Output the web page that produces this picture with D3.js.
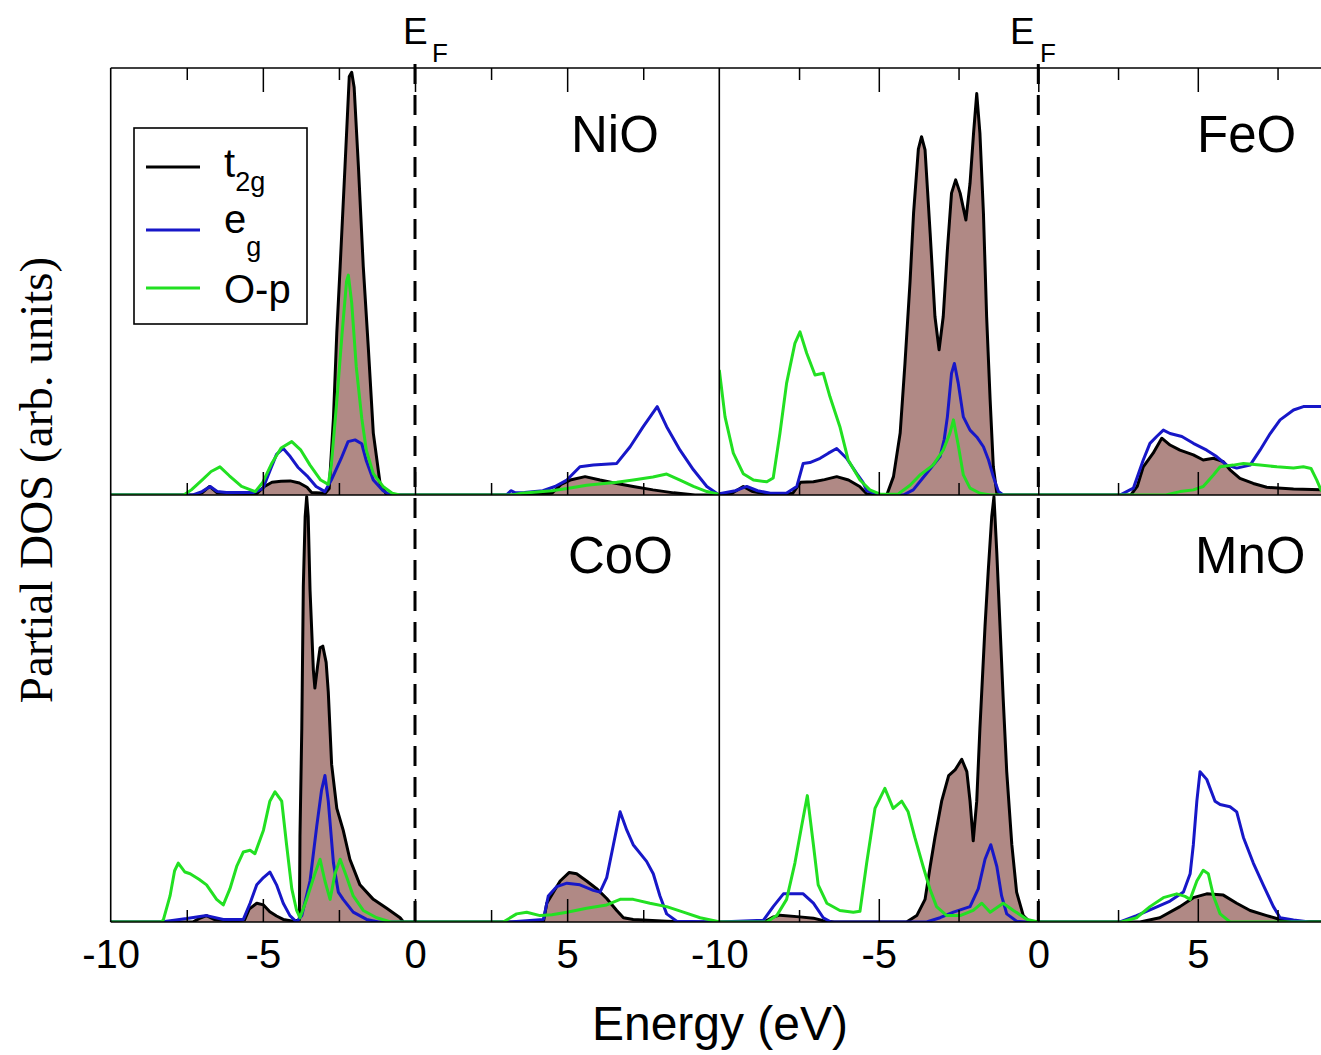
<!DOCTYPE html>
<html>
<head>
<meta charset="utf-8">
<script src="https://cdn.jsdelivr.net/npm/d3@7/dist/d3.min.js"></script>
<style>
  html, body { margin: 0; padding: 0; background: #fff; }
  svg { display: block; }
</style>
</head>
<body>
<div id="chart"></div>
<script>
// ---------------- DATA (energy in eV, DOS in arbitrary units) ----------------
const panelNames = ["NiO", "FeO", "CoO", "MnO"];
const seriesNames = ["t2g", "eg", "O-p"];
const majorTicks = [-5, 0, 5];
const minorTicks = [-7.5, -2.5, 2.5, 7.5];
const tickLabelsLeft = [-10, -5, 0, 5];
const tickLabelsRight = [-10, -5, 0, 5];

const NiO_t2g = [[-10,0],[-7.2,0],[-7.0,0.005],[-6.75,0.02],[-6.5,0.005],[-5.2,0.003],[-4.95,0.02],[-4.7,0.03],[-4.4,0.032],[-4.1,0.033],[-3.8,0.028],[-3.55,0.018],[-3.4,0.006],[-2.95,0.004],[-2.82,0.015],[-2.68,0.18],[-2.57,0.38],[-2.46,0.535],[-2.3,0.77],[-2.16,0.98],[-2.08,0.99],[-2.0,0.955],[-1.86,0.77],[-1.7,0.535],[-1.53,0.34],[-1.37,0.145],[-1.15,0.028],[-0.93,0],[3.2,0],[4.5,0.004],[4.8,0.025],[5.1,0.035],[5.59,0.043],[6.08,0.035],[6.63,0.027],[7.17,0.02],[7.82,0.012],[8.5,0.005],[9.2,0],[10,0]];
const NiO_eg = [[-10,0],[-7.3,0],[-7.0,0.008],[-6.73,0.02],[-6.5,0.008],[-6.2,0.006],[-5.3,0.006],[-5.0,0.015],[-4.75,0.06],[-4.55,0.095],[-4.33,0.109],[-4.1,0.09],[-3.85,0.065],[-3.55,0.045],[-3.25,0.02],[-2.96,0.008],[-2.75,0.035],[-2.43,0.085],[-2.2,0.125],[-1.97,0.129],[-1.75,0.12],[-1.6,0.08],[-1.37,0.035],[-1.05,0.01],[-0.8,0],[3.0,0],[3.15,0.01],[3.3,0.005],[3.6,0.006],[4.2,0.01],[4.6,0.02],[4.99,0.035],[5.42,0.066],[5.86,0.07],[6.63,0.074],[7.07,0.113],[7.5,0.16],[7.96,0.207],[8.27,0.16],[8.71,0.105],[9.15,0.059],[9.59,0.02],[9.91,0.004],[10,0]];
const NiO_Op = [[-10,0],[-7.6,0],[-7.35,0.012],[-7.0,0.035],[-6.7,0.055],[-6.41,0.066],[-6.1,0.045],[-5.7,0.02],[-5.25,0.008],[-5.0,0.03],[-4.7,0.075],[-4.4,0.11],[-4.05,0.125],[-3.75,0.105],[-3.45,0.07],[-3.1,0.035],[-2.85,0.025],[-2.75,0.07],[-2.57,0.22],[-2.4,0.375],[-2.25,0.5],[-2.19,0.515],[-2.08,0.45],[-1.93,0.3],[-1.75,0.18],[-1.6,0.105],[-1.37,0.05],[-1.05,0.02],[-0.75,0.004],[-0.5,0],[3.2,0],[3.5,0.004],[4.5,0.01],[5.0,0.015],[5.64,0.023],[6.63,0.03],[7.17,0.035],[7.82,0.042],[8.27,0.049],[8.71,0.035],[9.15,0.02],[9.59,0.008],[9.91,0.003],[10,0]];

const FeO_t2g = [[-10,0],[-9.6,0.004],[-9.25,0.02],[-8.95,0.008],[-8.5,0.002],[-7.7,0.004],[-7.45,0.03],[-7.05,0.031],[-6.7,0.036],[-6.32,0.043],[-5.95,0.035],[-5.6,0.02],[-5.38,0.003],[-4.75,0],[-4.54,0.043],[-4.33,0.145],[-4.18,0.308],[-4.02,0.5],[-3.91,0.66],[-3.76,0.81],[-3.66,0.839],[-3.55,0.808],[-3.39,0.613],[-3.24,0.418],[-3.11,0.34],[-2.98,0.418],[-2.85,0.574],[-2.72,0.707],[-2.59,0.738],[-2.45,0.707],[-2.27,0.644],[-2.14,0.73],[-2.03,0.847],[-1.93,0.94],[-1.83,0.847],[-1.72,0.66],[-1.62,0.418],[-1.51,0.223],[-1.41,0.066],[-1.3,0.004],[-1.2,0],[2.9,0],[3.1,0.02],[3.29,0.066],[3.6,0.098],[3.87,0.133],[4.13,0.117],[4.44,0.105],[4.86,0.094],[5.17,0.082],[5.49,0.086],[5.8,0.078],[6.01,0.059],[6.32,0.039],[6.74,0.027],[7.16,0.018],[8.0,0.014],[9.0,0.012],[10,0.012]];
const FeO_eg = [[-10,0.003],[-9.5,0.01],[-9.14,0.02],[-8.8,0.01],[-8.4,0.004],[-7.9,0.004],[-7.57,0.02],[-7.37,0.074],[-7.16,0.076],[-6.84,0.086],[-6.58,0.098],[-6.32,0.109],[-6.01,0.086],[-5.69,0.05],[-5.5,0.03],[-5.38,0.01],[-5.0,0.002],[-4.23,0],[-3.92,0.012],[-3.5,0.051],[-3.08,0.09],[-2.95,0.13],[-2.85,0.183],[-2.72,0.285],[-2.63,0.308],[-2.51,0.262],[-2.35,0.183],[-2.14,0.152],[-1.93,0.136],[-1.72,0.113],[-1.56,0.082],[-1.41,0.043],[-1.25,0.008],[-1.1,0],[2.56,0],[2.98,0.016],[3.29,0.082],[3.5,0.121],[3.71,0.137],[3.92,0.152],[4.13,0.144],[4.5,0.137],[4.86,0.121],[5.28,0.105],[5.59,0.09],[5.91,0.07],[6.22,0.063],[6.64,0.07],[6.95,0.105],[7.27,0.144],[7.58,0.176],[8.0,0.199],[8.31,0.207],[9.0,0.207],[10,0.207]];
const FeO_Op = [[-10,0.293],[-9.82,0.183],[-9.56,0.098],[-9.25,0.05],[-8.93,0.035],[-8.51,0.031],[-8.31,0.04],[-8.1,0.144],[-7.89,0.262],[-7.63,0.355],[-7.47,0.382],[-7.26,0.332],[-7.0,0.281],[-6.74,0.285],[-6.53,0.23],[-6.22,0.16],[-5.96,0.082],[-5.59,0.035],[-5.28,0.012],[-4.96,0.002],[-4.4,0.002],[-4.02,0.023],[-3.71,0.047],[-3.3,0.07],[-2.98,0.105],[-2.77,0.145],[-2.66,0.176],[-2.51,0.117],[-2.35,0.047],[-2.14,0.016],[-1.83,0.004],[-1.5,0],[4.0,0],[4.44,0.008],[4.86,0.012],[5.17,0.02],[5.49,0.047],[5.7,0.066],[6.11,0.07],[6.43,0.074],[6.95,0.07],[7.48,0.066],[8.0,0.063],[8.31,0.066],[8.55,0.062],[8.73,0.035],[8.86,0.012],[9.0,0],[10,0]];

const CoO_t2g = [[-10,0],[-7.3,0],[-7.1,0.008],[-6.85,0.015],[-6.6,0.006],[-6.0,0.002],[-5.6,0.005],[-5.45,0.03],[-5.2,0.044],[-4.98,0.04],[-4.77,0.024],[-4.55,0.014],[-4.33,0.006],[-4.0,0.002],[-3.8,0.005],[-3.78,0.2],[-3.72,0.454],[-3.67,0.787],[-3.61,0.949],[-3.56,0.996],[-3.51,0.95],[-3.45,0.778],[-3.34,0.59],[-3.29,0.548],[-3.2,0.6],[-3.12,0.642],[-3.03,0.646],[-2.92,0.608],[-2.85,0.539],[-2.74,0.369],[-2.57,0.266],[-2.36,0.215],[-2.14,0.147],[-1.81,0.087],[-1.37,0.053],[-0.93,0.032],[-0.49,0.01],[-0.38,0],[4.22,0],[4.33,0.044],[4.77,0.096],[5.07,0.116],[5.31,0.113],[5.64,0.096],[5.97,0.078],[6.3,0.055],[6.63,0.027],[6.85,0.01],[7.17,0.006],[8.27,0.002],[9.0,0],[10,0]];
const CoO_eg = [[-10,0],[-8.4,0],[-8.16,0.002],[-7.5,0.008],[-6.85,0.015],[-6.3,0.006],[-5.64,0.006],[-5.42,0.044],[-5.2,0.087],[-4.98,0.104],[-4.77,0.117],[-4.55,0.087],[-4.33,0.044],[-4.11,0.015],[-3.89,0],[-3.72,0.015],[-3.45,0.096],[-3.23,0.224],[-3.07,0.309],[-2.96,0.343],[-2.85,0.283],[-2.68,0.138],[-2.52,0.07],[-2.36,0.053],[-2.03,0.023],[-1.59,0.006],[-1.2,0],[3.1,0],[4.22,0.006],[4.38,0.061],[4.66,0.083],[4.99,0.091],[5.42,0.087],[5.86,0.074],[6.08,0.07],[6.3,0.104],[6.52,0.181],[6.74,0.258],[6.96,0.215],[7.17,0.181],[7.61,0.142],[7.83,0.113],[8.05,0.061],[8.27,0.019],[8.6,0.002],[10,0]];
const CoO_Op = [[-10,0],[-8.35,0],[-8.27,0.005],[-8.05,0.061],[-7.9,0.12],[-7.78,0.138],[-7.56,0.117],[-7.39,0.113],[-7.1,0.1],[-6.85,0.087],[-6.52,0.053],[-6.3,0.04],[-6.08,0.078],[-5.86,0.13],[-5.64,0.164],[-5.42,0.168],[-5.26,0.16],[-4.98,0.215],[-4.77,0.283],[-4.6,0.305],[-4.38,0.283],[-4.22,0.181],[-4.05,0.078],[-3.89,0.027],[-3.78,0.01],[-3.56,0.053],[-3.29,0.113],[-3.12,0.147],[-2.96,0.096],[-2.79,0.053],[-2.63,0.113],[-2.46,0.147],[-2.24,0.104],[-2.03,0.061],[-1.7,0.027],[-1.26,0.01],[-0.8,0],[2.9,0],[3.34,0.019],[3.67,0.023],[4.11,0.015],[4.5,0.017],[4.99,0.023],[5.64,0.032],[6.3,0.04],[6.74,0.053],[7.17,0.053],[7.72,0.044],[8.27,0.036],[8.82,0.023],[9.37,0.01],[9.91,0.002],[10,0]];

const MnO_t2g = [[-10,0],[-8.6,0],[-8.3,0.012],[-8.1,0.016],[-7.48,0.012],[-7.05,0.009],[-6.74,0.003],[-6.4,0],[-4.13,0],[-3.81,0.015],[-3.55,0.053],[-3.39,0.13],[-3.24,0.198],[-3.03,0.283],[-2.81,0.343],[-2.61,0.356],[-2.4,0.381],[-2.24,0.352],[-2.14,0.283],[-2.04,0.19],[-1.93,0.283],[-1.83,0.454],[-1.67,0.693],[-1.57,0.821],[-1.46,0.949],[-1.39,0.996],[-1.3,0.863],[-1.2,0.693],[-1.1,0.522],[-0.99,0.352],[-0.83,0.181],[-0.68,0.07],[-0.47,0.015],[-0.26,0],[3.19,0],[3.81,0.01],[4.44,0.036],[4.86,0.057],[5.28,0.066],[5.8,0.063],[6.22,0.044],[6.64,0.027],[7.16,0.015],[7.58,0.006],[8.0,0.002],[10,0]];
const MnO_eg = [[-10,0],[-8.62,0.004],[-8.31,0.036],[-7.99,0.066],[-7.37,0.066],[-7.05,0.044],[-6.74,0.01],[-6.5,0],[-3.5,0],[-3.08,0.01],[-2.66,0.023],[-2.14,0.036],[-1.88,0.078],[-1.67,0.147],[-1.49,0.181],[-1.3,0.13],[-1.15,0.061],[-0.99,0.019],[-0.68,0.002],[-0.4,0],[2.56,0],[3.08,0.015],[3.61,0.032],[4.13,0.049],[4.55,0.07],[4.76,0.113],[4.86,0.181],[4.97,0.283],[5.07,0.352],[5.28,0.334],[5.54,0.283],[5.7,0.275],[6.01,0.27],[6.22,0.258],[6.43,0.198],[6.74,0.138],[7.05,0.087],[7.37,0.036],[7.58,0.01],[8.0,0.005],[8.5,0],[10,0]];
const MnO_Op = [[-10,0],[-8.51,0],[-8.2,0.015],[-7.89,0.053],[-7.63,0.138],[-7.42,0.224],[-7.24,0.296],[-7.05,0.181],[-6.9,0.087],[-6.63,0.044],[-6.22,0.027],[-5.8,0.023],[-5.59,0.025],[-5.38,0.138],[-5.12,0.266],[-4.81,0.313],[-4.55,0.266],[-4.28,0.283],[-4.08,0.258],[-3.87,0.198],[-3.61,0.13],[-3.4,0.078],[-3.19,0.036],[-2.87,0.015],[-2.45,0.015],[-2.04,0.027],[-1.77,0.044],[-1.51,0.023],[-1.1,0.044],[-0.78,0.027],[-0.35,0.006],[0,0],[2.6,0],[3.08,0.01],[3.5,0.036],[3.92,0.057],[4.34,0.066],[4.6,0.06],[4.76,0.053],[4.97,0.096],[5.17,0.121],[5.33,0.113],[5.49,0.061],[5.7,0.019],[6.01,0],[10,0]];

// ---------------- LAYOUT & STYLE ----------------
const W = 1321, H = 1055;
const COLORS = { fill: "#b08985", t2g: "#000000", eg: "#1717c8", op: "#22e022" };
const SANS = "'Liberation Sans', Arial, Helvetica, sans-serif";
const SERIF = "'Liberation Serif', 'Times New Roman', serif";

const xL = d3.scaleLinear().domain([-10, 10]).range([110.7, 719.3]);
const xR = d3.scaleLinear().domain([-10, 10]).range([719.3, 1357.3]);
const yT = d3.scaleLinear().domain([0, 1]).range([495, 68]);
const yB = d3.scaleLinear().domain([0, 1]).range([922, 495]);

const panels = [
  { name: panelNames[0], x: xL, y: yT, t2g: NiO_t2g, eg: NiO_eg, op: NiO_Op, lx: 571, ly: 152, row: 0 },
  { name: panelNames[1], x: xR, y: yT, t2g: FeO_t2g, eg: FeO_eg, op: FeO_Op, lx: 1197, ly: 152, row: 0 },
  { name: panelNames[2], x: xL, y: yB, t2g: CoO_t2g, eg: CoO_eg, op: CoO_Op, lx: 568, ly: 573, row: 1 },
  { name: panelNames[3], x: xR, y: yB, t2g: MnO_t2g, eg: MnO_eg, op: MnO_Op, lx: 1195, ly: 573, row: 1 }
];

const svg = d3.select("#chart").append("svg")
  .attr("width", W).attr("height", H)
  .attr("viewBox", `0 0 ${W} ${H}`);
svg.append("rect").attr("width", W).attr("height", H).attr("fill", "#fff");

const defs = svg.append("defs");

panels.forEach((p, i) => {
  const [x0, x1] = p.x.range();
  const [yb, yt] = p.y.range();
  defs.append("clipPath").attr("id", "clip" + i)
    .append("rect").attr("x", x0).attr("y", yt - 2).attr("width", x1 - x0).attr("height", yb - yt + 2);

  const g = svg.append("g").attr("clip-path", `url(#clip${i})`);
  const area = d3.area().x(d => p.x(d[0])).y0(p.y(0)).y1(d => p.y(d[1]));
  const line = d3.line().x(d => p.x(d[0])).y(d => p.y(d[1]));

  g.append("path").datum(p.t2g).attr("d", area).attr("fill", COLORS.fill).attr("stroke", "none");
  g.append("path").datum(p.t2g).attr("d", line).attr("fill", "none")
    .attr("stroke", COLORS.t2g).attr("stroke-width", 3).attr("stroke-linejoin", "round");
  g.append("path").datum(p.eg).attr("d", line).attr("fill", "none")
    .attr("stroke", COLORS.eg).attr("stroke-width", 3).attr("stroke-linejoin", "round");
  g.append("path").datum(p.op).attr("d", line).attr("fill", "none")
    .attr("stroke", COLORS.op).attr("stroke-width", 3).attr("stroke-linejoin", "round");

  // panel label
  svg.append("text").attr("x", p.lx).attr("y", p.ly)
    .attr("font-family", SANS).attr("font-size", 51).attr("fill", "#000").text(p.name);

  // ticks
  const tickStyle = sel => {
    sel.select(".domain").remove();
    sel.selectAll("line").attr("stroke", "#000").attr("stroke-width", 1.5);
    sel.selectAll("text").remove();
  };
  if (p.row === 0) {
    svg.append("g").attr("transform", `translate(0,${yt})`)
      .call(d3.axisTop(p.x).tickValues(majorTicks).tickSize(-24)).call(tickStyle);
    svg.append("g").attr("transform", `translate(0,${yt})`)
      .call(d3.axisTop(p.x).tickValues(minorTicks).tickSize(-12)).call(tickStyle);
  }
  svg.append("g").attr("transform", `translate(0,${yb})`)
    .call(d3.axisBottom(p.x).tickValues(majorTicks).tickSize(-23)).call(tickStyle);
  svg.append("g").attr("transform", `translate(0,${yb})`)
    .call(d3.axisBottom(p.x).tickValues(minorTicks).tickSize(-12)).call(tickStyle);

  if (p.row === 1) {
    const labs = p.x === xL ? tickLabelsLeft : tickLabelsRight;
    const ax = svg.append("g").attr("transform", `translate(0,${yb})`)
      .call(d3.axisBottom(p.x).tickValues(labs).tickSize(0).tickPadding(18).tickFormat(d3.format("d")));
    ax.select(".domain").remove();
    ax.selectAll("text").attr("font-family", SANS).attr("font-size", 40).attr("fill", "#000")
      .text(d => String(d));
  }
});

// frame
const frame = svg.append("g").attr("stroke", "#000").attr("stroke-width", 1.6).attr("fill", "none");
[68, 495, 922].forEach(yy => frame.append("line").attr("x1", 110.7).attr("x2", W).attr("y1", yy).attr("y2", yy));
[110.7, 719.3].forEach(xx => frame.append("line").attr("x1", xx).attr("x2", xx).attr("y1", 68).attr("y2", 922));

// Fermi level dashed lines
[xL(0), xR(0)].forEach(xx => {
  svg.append("line").attr("x1", xx).attr("x2", xx).attr("y1", 64).attr("y2", 922)
    .attr("stroke", "#000").attr("stroke-width", 3).attr("stroke-dasharray", "20,11");
});

// E_F labels
[[403, 432], [1010, 1040]].forEach(([ex, fx]) => {
  svg.append("text").attr("x", ex).attr("y", 44).attr("font-family", SANS).attr("font-size", 37).text("E");
  svg.append("text").attr("x", fx).attr("y", 62).attr("font-family", SANS).attr("font-size", 26).text("F");
});

// legend
const lg = svg.append("g");
lg.append("rect").attr("x", 134).attr("y", 128).attr("width", 173).attr("height", 196)
  .attr("fill", "#fff").attr("stroke", "#000").attr("stroke-width", 1.6);
const legendItems = [
  { key: seriesNames[0], color: COLORS.t2g, ly: 167, main: "t", sub: "2g", ty: 177, sy: 191 },
  { key: seriesNames[1], color: COLORS.eg, ly: 230, main: "e", sub: "g", ty: 233, sy: 256 },
  { key: seriesNames[2], color: COLORS.op, ly: 288, main: "O-p", sub: "", ty: 303, sy: 0 }
];
legendItems.forEach(it => {
  lg.append("line").attr("x1", 146).attr("x2", 200).attr("y1", it.ly).attr("y2", it.ly)
    .attr("stroke", it.color).attr("stroke-width", 3);
  const t = lg.append("text").attr("x", 224).attr("y", it.ty)
    .attr("font-family", SANS).attr("font-size", 40).attr("fill", "#000").text(it.main);
  if (it.sub) {
    const w = t.node().getComputedTextLength();
    lg.append("text").attr("x", 224 + w).attr("y", it.sy)
      .attr("font-family", SANS).attr("font-size", 27).attr("fill", "#000").text(it.sub);
  }
});

// axis titles
svg.append("text").attr("x", 720).attr("y", 1040).attr("text-anchor", "middle")
  .attr("font-family", SANS).attr("font-size", 48).attr("fill", "#000").text("Energy (eV)");
svg.append("text").attr("transform", "translate(52,480) rotate(-90)").attr("text-anchor", "middle")
  .attr("font-family", SERIF).attr("font-size", 47).attr("fill", "#000").text("Partial DOS (arb. units)");
</script>
</body>
</html>
